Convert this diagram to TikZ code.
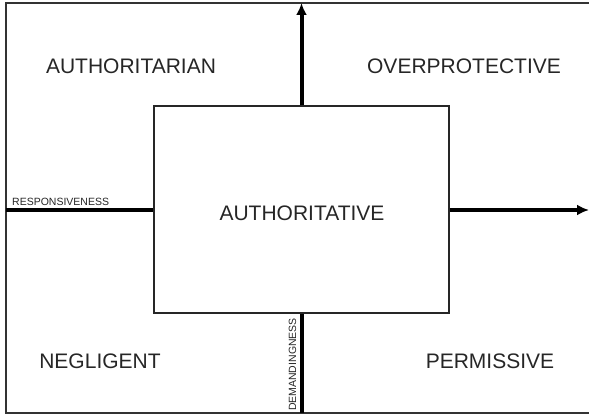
\documentclass[tikz,border=0pt]{standalone}
\usepackage{fontspec}
\setmainfont{Liberation Sans}
\usetikzlibrary{arrows.meta}
\begin{document}
\begin{tikzpicture}[x=1pt,y=-1pt,
  frame/.style={draw=black!80,line width=1.8pt},
  axis/.style={draw=black,line width=4pt},
  big/.style={font=\fontsize{21}{21}\selectfont,text=black!85,anchor=base,inner sep=0pt},
  small/.style={font=\fontsize{10.5}{10.5}\selectfont,text=black!85,inner sep=0pt},
  tip/.style={-{Latex[length=12pt,width=11pt]}}]
\useasboundingbox (0,0) rectangle (589,417);
% outer frame (open on the right)
\coordinate (tr) at (589,3);
\coordinate (tl) at (6,3);
\coordinate (bl) at (6,413);
\coordinate (br) at (589,413);
\draw[frame] (tr) -- (tl) -- (bl) -- (br);
% central box
\node[draw=black!85,line width=1.3pt,minimum width=295pt,minimum height=207pt,inner sep=0pt] (box) at (301.5,209.5) {};
% axis end points
\coordinate (top) at (301.5,3);
\coordinate (bot) at (301.5,413);
\coordinate (lft) at (6,210);
\coordinate (rgt) at (589,210);
\draw[axis,tip] (box.north -| top) -- (top);
\draw[axis] (box.south -| bot) -- (bot);
\draw[axis] (lft) -- (box.west |- lft);
\draw[axis,tip] (box.east |- rgt) -- (rgt);
% labels
\node[big] (authoritarian) at (131,74) {AUTHORITARIAN};
\node[big] (overprotective) at (464,74) {OVERPROTECTIVE};
\node[big] (authoritative) at (302,220) {AUTHORITATIVE};
\node[big] (negligent) at (100,368) {NEGLIGENT};
\node[big] (permissive) at (490,368) {PERMISSIVE};
\node[small,anchor=base west] (resp) at (12,205) {RESPONSIVENESS};
\node[small,anchor=base east,rotate=90] (dem) at (296,318) {DEMANDINGNESS};
\end{tikzpicture}
\end{document}
